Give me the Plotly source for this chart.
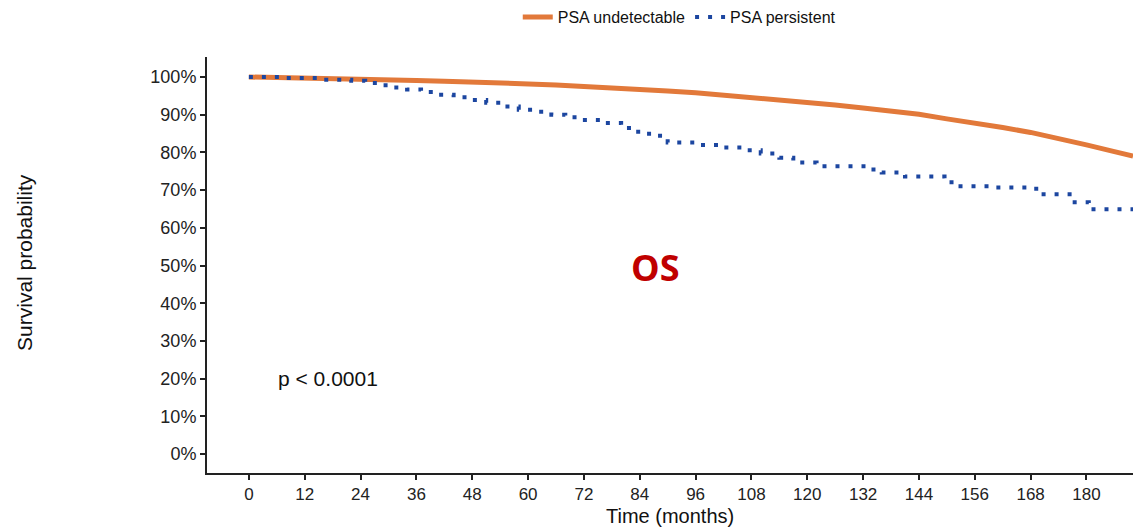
import plotly.graph_objects as go

# Orange: PSA undetectable (KM estimate)
t_undet = [0, 6, 12, 18, 24, 30, 36, 42, 48, 54, 60, 66, 72, 78, 84, 90, 96, 102, 108,
           114, 120, 126, 132, 138, 144, 150, 156, 162, 168, 174, 180, 186, 190]
s_undet = [1.0, 0.999, 0.998, 0.996, 0.994, 0.993, 0.991, 0.989, 0.987, 0.985, 0.983,
           0.979, 0.975, 0.972, 0.967, 0.963, 0.958, 0.952, 0.946, 0.939, 0.932, 0.926,
           0.918, 0.911, 0.901, 0.889, 0.879, 0.866, 0.853, 0.838, 0.82, 0.802, 0.79]

# Blue: PSA persistent (KM estimate)
t_pers = [0, 8, 16, 22, 25, 28, 31, 34, 37, 40, 44, 47, 51, 55, 58, 62, 65, 68, 71, 75,
          80, 83, 86, 90, 97, 101, 106, 110, 114, 117, 122, 133, 136, 141, 149.5, 151,
          160, 168.5, 170, 177, 180.5, 190]
s_pers = [1.0, 0.997, 0.993, 0.99, 0.984, 0.978, 0.972, 0.967, 0.96, 0.953, 0.946, 0.939,
          0.932, 0.922, 0.913, 0.908, 0.9, 0.893, 0.886, 0.878, 0.865, 0.855, 0.844, 0.826,
          0.82, 0.813, 0.806, 0.797, 0.786, 0.773, 0.763, 0.755, 0.747, 0.736, 0.728, 0.71,
          0.707, 0.704, 0.689, 0.668, 0.649, 0.649]

x_ticks = list(range(0, 181, 12))
y_ticks = [i / 10 for i in range(11)]
y_labels = [f"{i*10}%" for i in range(11)]

ORANGE = "#E2793A"
BLUE = "#1C46A0"
FONT = "Liberation Sans, Arial, sans-serif"

fig = go.Figure()
fig.add_trace(go.Scatter(x=t_undet, y=s_undet, mode="lines", name="PSA undetectable",
                         line=dict(color=ORANGE, width=5, shape="linear")))
fig.add_trace(go.Scatter(x=t_pers, y=s_pers, mode="lines", name="PSA persistent",
                         line=dict(color=BLUE, width=4, shape="hv", dash="4px,9px")))

fig.add_annotation(x=87.3, y=0.494, text="<b>OS</b>", showarrow=False,
                   font=dict(size=36, color="#C00000", family="Open Sans, " + FONT))
fig.add_annotation(x=5.8, y=0.2, text="p &lt; 0.0001", showarrow=False, xanchor="left",
                   font=dict(size=21, color="#111", family=FONT))
fig.add_annotation(xref="paper", yref="paper", x=0.5, y=-0.104, yanchor="middle",
                   xanchor="center", text="Time (months)", showarrow=False,
                   font=dict(size=20, color="#111", family=FONT))
fig.add_annotation(xref="paper", yref="paper", x=-0.1965, y=0.505, textangle=-90,
                   xanchor="center", yanchor="middle",
                   text="Survival probability", showarrow=False,
                   font=dict(size=21, color="#111", family=FONT))

fig.update_layout(
    width=1133, height=527,
    margin=dict(l=207, r=0, t=55, b=54),
    paper_bgcolor="white", plot_bgcolor="white",
    font=dict(family=FONT, color="#111"),
    showlegend=True,
    legend=dict(orientation="h", x=0.51, xanchor="center", y=1.097, yanchor="middle",
                font=dict(size=16, family=FONT), itemwidth=30, bgcolor="rgba(0,0,0,0)"),
    xaxis=dict(range=[-9, 190], tickvals=x_ticks, showgrid=False, zeroline=False,
               showline=True, linecolor="#222", linewidth=2, ticks="outside",
               ticklen=5, tickwidth=1.5, tickcolor="#222",
               tickfont=dict(size=17, color="#222")),
    yaxis=dict(range=[-0.05, 1.053], tickvals=y_ticks, ticktext=y_labels, showgrid=False,
               zeroline=False, showline=True, linecolor="#222", linewidth=2,
               ticks="outside", ticklen=5, tickwidth=1.5, tickcolor="#222",
               tickfont=dict(size=18, color="#222")),
)

fig.write_html("out.html")
